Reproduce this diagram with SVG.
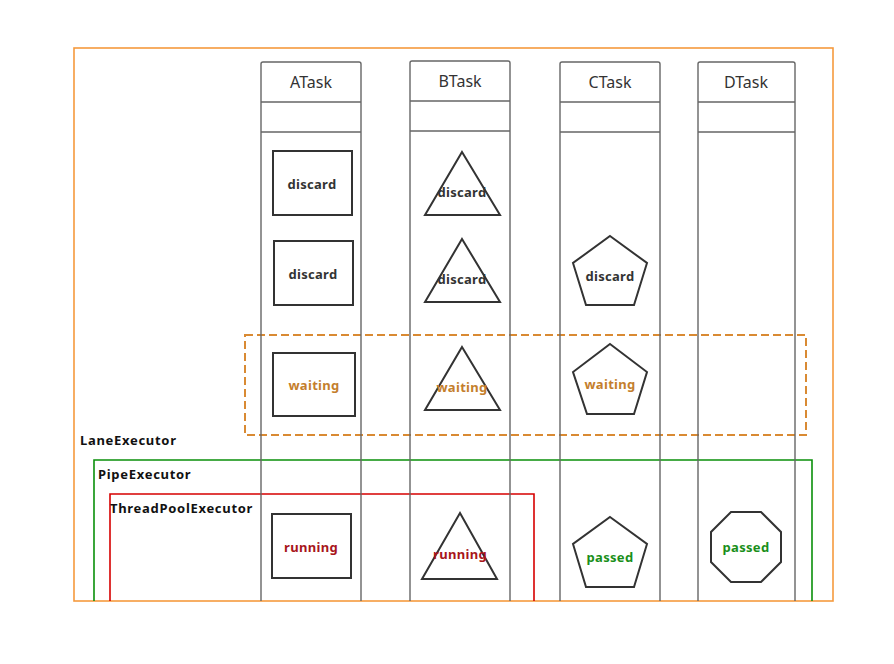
<svg xmlns="http://www.w3.org/2000/svg" width="894" height="664" viewBox="0 0 894 664">
<style>
.col{fill:none;stroke:#666;stroke-width:1.4}
.hdr{font-family:"Noto Sans","Open Sans",sans-serif;font-size:16px;fill:#333;text-anchor:middle}
.shp{fill:#fff;stroke:#333;stroke-width:2}
.lbl{font-family:"Noto Sans","Open Sans",sans-serif;font-size:13px;font-weight:bold;text-anchor:middle;letter-spacing:0.3px}
.dk{fill:#333}
.wt{fill:#c47e2c}
.rn{fill:#a8151b}
.ps{fill:#1a8f1a}
.ex{font-family:"Noto Sans","Open Sans",sans-serif;font-size:13px;font-weight:bold;fill:#111;letter-spacing:0.7px}
</style>
<rect width="894" height="664" fill="#fff"/>
<g id="frames">
<rect id="lane-frame" x="74" y="48" width="759" height="553" fill="none" stroke="#f59a3e" stroke-width="1.6"/>
<path id="pipe-frame" d="M94,601 V460 H812 V601" fill="none" stroke="#0a900a" stroke-width="1.6"/>
<path id="pool-frame" d="M110,601 V494 H534 V601" fill="none" stroke="#d60000" stroke-width="1.6"/>
<rect id="waiting-frame" x="245" y="335" width="561" height="100" fill="none" stroke="#d98a33" stroke-width="2" stroke-dasharray="8 4"/>
</g>
<g id="colA">
<path class="col" d="M261,601 V64 Q261,62 263,62 H359 Q361,62 361,64 V601 M261,102 H361 M261,132 H361"/>
<text class="hdr" x="311" y="88">ATask</text>
</g>
<g id="colB">
<path class="col" d="M410,601 V63 Q410,61 412,61 H508 Q510,61 510,63 V601 M410,101 H510 M410,131 H510"/>
<text class="hdr" x="460" y="87">BTask</text>
</g>
<g id="colC">
<path class="col" d="M560,601 V64 Q560,62 562,62 H658 Q660,62 660,64 V601 M560,102 H660 M560,132 H660"/>
<text class="hdr" x="610" y="88">CTask</text>
</g>
<g id="colD">
<path class="col" d="M698,601 V64 Q698,62 700,62 H793 Q795,62 795,64 V601 M698,102 H795 M698,132 H795"/>
<text class="hdr" x="746" y="88">DTask</text>
</g>
<g id="A1"><rect class="shp" x="273" y="151" width="79" height="64"/><text class="lbl dk" x="312" y="189">discard</text></g>
<g id="A2"><rect class="shp" x="274" y="241" width="79" height="64"/><text class="lbl dk" x="313" y="279">discard</text></g>
<g id="A3"><rect class="shp" x="273" y="353" width="82" height="63"/><text class="lbl wt" x="314" y="390">waiting</text></g>
<g id="A4"><rect class="shp" x="272" y="514" width="79" height="64"/><text class="lbl rn" x="311" y="552">running</text></g>
<g id="B1"><polygon class="shp" points="462,152 500,215 425,215"/><text class="lbl dk" x="462" y="197">discard</text></g>
<g id="B2"><polygon class="shp" points="462,239 500,302 425,302"/><text class="lbl dk" x="462" y="284">discard</text></g>
<g id="B3"><polygon class="shp" points="462,347 500,410 425,410"/><text class="lbl wt" x="462" y="392">waiting</text></g>
<g id="B4"><polygon class="shp" points="460,513 497,579 422,579"/><text class="lbl rn" x="460" y="559">running</text></g>
<g id="C2"><polygon class="shp" points="610,236 647,263 634,305 586,305 573,263"/><text class="lbl dk" x="610" y="281">discard</text></g>
<g id="C3"><polygon class="shp" points="610,344 647,372 634,414 587,414 573,372"/><text class="lbl wt" x="610" y="389">waiting</text></g>
<g id="C4"><polygon class="shp" points="610,517 647,544 634,587 586,587 573,544"/><text class="lbl ps" x="610" y="562">passed</text></g>
<g id="D4"><polygon class="shp" points="731,512 761,512 781,532 781,562 761,582 731,582 711,562 711,532"/><text class="lbl ps" x="746" y="552">passed</text></g>
<g id="labels">
<text class="ex" x="80" y="445">LaneExecutor</text>
<text class="ex" x="98" y="479">PipeExecutor</text>
<text class="ex" x="110" y="513">ThreadPoolExecutor</text>
</g>
<g id="connectors"></g>
</svg>
